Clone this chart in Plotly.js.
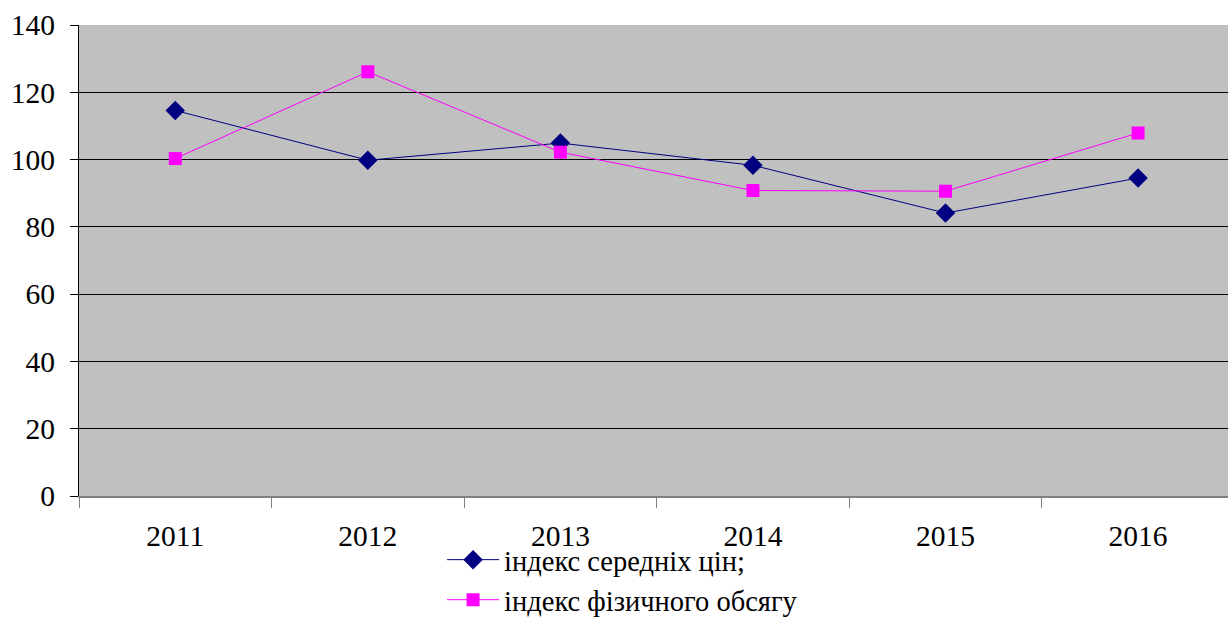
<!DOCTYPE html>
<html>
<head>
<meta charset="utf-8">
<script src="https://cdn.plot.ly/plotly-3.0.1.min.js"></script>
<style>html,body{margin:0;padding:0;background:#fff;}#chart{width:1228px;height:618px;}</style>
</head>
<body>
<div id="chart"></div>
<script>
const years = ['2011', '2012', '2013', '2014', '2015', '2016'];
const priceIndex = [114.6, 99.8, 104.9, 98.3, 84.1, 94.5];
const volumeIndex = [100.3, 126.1, 102.2, 90.8, 90.6, 107.9];
const seriesNames = ['індекс середніх цін;', 'індекс фізичного обсягу'];

const FONT = 'Liberation Serif';

const traces = [
  {
    x: years, y: priceIndex, name: seriesNames[0], type: 'scatter', mode: 'lines+markers',
    line: {color: '#000080', width: 1},
    marker: {symbol: 'diamond', size: 15, color: '#000080'},
    legendgroup: 'a'
  },
  {
    x: years, y: volumeIndex, name: seriesNames[1], type: 'scatter', mode: 'lines+markers',
    line: {color: '#FF00FF', width: 1},
    marker: {symbol: 'square', size: 13, color: '#FF00FF'},
    legendgroup: 'b'
  }
];

const layout = {
  width: 1228, height: 618,
  margin: {l: 78.7, r: 0, t: 25, b: 122.3, pad: 0, autoexpand: false},
  paper_bgcolor: '#ffffff',
  plot_bgcolor: '#C0C0C0',
  font: {family: FONT, size: 29.5, color: '#000'},
  showlegend: true,
  legend: {
    x: 0.316, xanchor: 'left', y: -0.082, yanchor: 'top',
    orientation: 'v', bgcolor: 'rgba(0,0,0,0)',
    font: {family: FONT, size: 28.5, color: '#000'},
    traceorder: 'grouped', tracegroupgap: 0, itemwidth: 52
  },
  xaxis: {
    type: 'category', range: [-0.5, 5.467], fixedrange: true,
    showgrid: false, zeroline: false,
    showline: true, linecolor: '#808080', linewidth: 2,
    tickson: 'boundaries', ticks: 'outside', ticklen: 10, tickcolor: '#808080', tickwidth: 1,
    ticklabelstandoff: 13,
    tickfont: {family: FONT, size: 29.5}
  },
  yaxis: {
    range: [0, 140], dtick: 20, tick0: 0, fixedrange: true,
    showgrid: true, gridcolor: '#000000', gridwidth: 1,
    zeroline: false,
    showline: true, linecolor: '#000000', linewidth: 1,
    ticks: 'outside', ticklen: 8, tickcolor: '#000000', tickwidth: 1,
    ticklabelstandoff: 9,
    tickfont: {family: FONT, size: 29.5}
  }
};

Plotly.newPlot('chart', traces, layout, {displayModeBar: false, staticPlot: true});
</script>
</body>
</html>
